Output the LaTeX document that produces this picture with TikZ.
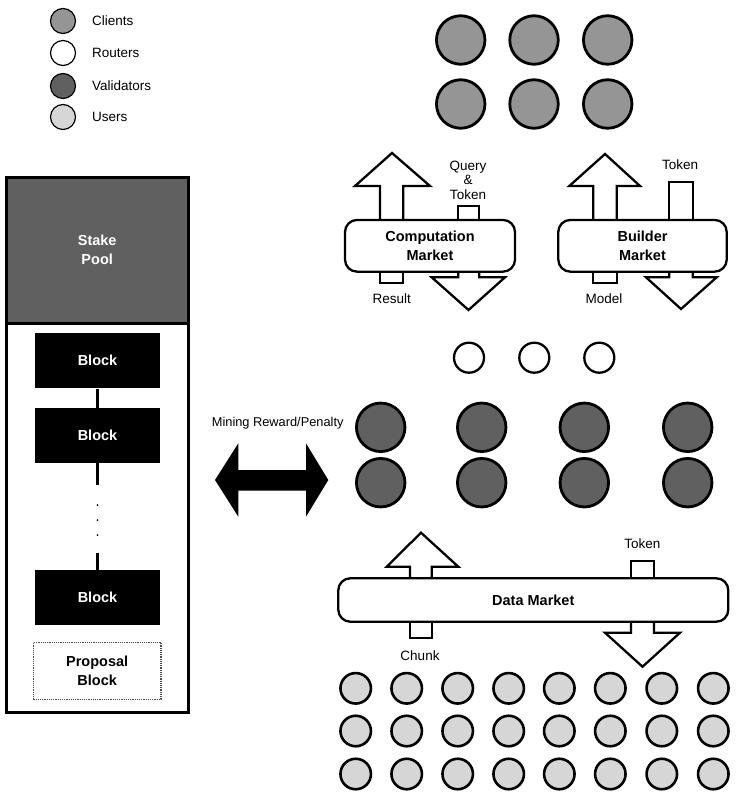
\documentclass[tikz,border=0pt]{standalone}
\usepackage{fontspec}
\setmainfont{Liberation Sans}
\definecolor{clientgray}{HTML}{959595}
\definecolor{valgray}{HTML}{606060}
\definecolor{usergray}{HTML}{D6D6D6}
\begin{document}
\begin{tikzpicture}[x=1pt,y=-1pt,
 lbl/.style={font=\fontsize{13.5}{14.5}\selectfont, inner sep=0pt, align=center},
 boldlbl/.style={font=\fontsize{14.5}{19}\selectfont\bfseries, inner sep=0pt, align=center},
 legc/.style={circle, draw, line width=1.2pt, minimum size=25pt, inner sep=0pt},
 client/.style={circle, draw, line width=2.8pt, fill=clientgray, minimum size=48.5pt, inner sep=0pt},
 validator/.style={circle, draw, line width=2.8pt, fill=valgray, minimum size=48.5pt, inner sep=0pt},
 router/.style={circle, draw, line width=2.3pt, fill=white, minimum size=30pt, inner sep=0pt},
 user/.style={circle, draw, line width=2.6pt, fill=usergray, minimum size=30.5pt, inner sep=0pt},
 market/.style={rectangle, rounded corners=12pt, draw, line width=2.3pt, fill=white, boldlbl},
 arr/.style={draw, line width=2.3pt, fill=white, line join=miter},
 blockbox/.style={rectangle, fill=black, text=white, boldlbl, minimum width=125pt, minimum height=55pt},
 link/.style={line width=3pt}
]
\useasboundingbox (0,0) rectangle (740,799);

% ---------- legend ----------
\node[legc, fill=clientgray] (lc) at (63,21) {};
\node[legc, fill=white] (lr) at (63,53) {};
\node[legc, fill=valgray] (lv) at (63,86) {};
\node[legc, fill=usergray] (lu) at (63,117) {};
\node[lbl, anchor=west] (lct) at (92,21) {Clients};
\node[lbl, anchor=west] (lrt) at (92,53) {Routers};
\node[lbl, anchor=west] (lvt) at (92,86) {Validators};
\node[lbl, anchor=west] (lut) at (92,117) {Users};

% ---------- clients ----------
\foreach \i/\x in {1/460.7,2/534,3/607.7}{
  \node[client] (c1\i) at (\x,40) {};
  \node[client] (c2\i) at (\x,104) {};
}

% ---------- computation market ----------
\draw[arr] (380,240) -- (380,186) -- (355,186) -- (392,153) -- (430,186) -- (403.3,186) -- (403.3,240);
\draw[arr] (380,250) rectangle (403.3,282.7);
\draw[arr] (458.3,206) rectangle (479.3,240);
\draw[arr] (458.3,250) -- (458.3,277.3) -- (431.7,277.3) -- (468.5,310) -- (505,277.3) -- (479.3,277.3) -- (479.3,250);
\node[market, minimum width=170pt, minimum height=51.7pt] (cm) at (430,245.8) {Computation\\Market};
\node[lbl] (result) at (391.7,299) {Result};
\node[lbl] (query) at (468,180) {Query\\\&\\Token};

% ---------- builder market ----------
\draw[arr] (593.3,240) -- (593.3,186) -- (569.3,186) -- (605,154) -- (640,186) -- (616.7,186) -- (616.7,240);
\draw[arr] (593.3,250) rectangle (616.7,282.7);
\draw[arr] (669.3,182) rectangle (692.7,240);
\draw[arr] (669.3,250) -- (669.3,277.3) -- (646,277.3) -- (681,309) -- (716.7,277.3) -- (692.7,277.3) -- (692.7,250);
\node[market, minimum width=168.4pt, minimum height=51.7pt] (bm) at (642.5,245.8) {Builder\\Market};
\node[lbl] (model) at (604,299) {Model};
\node[lbl] (btoken) at (680,165) {Token};

% ---------- routers ----------
\node[router] (r1) at (469,357.7) {};
\node[router] (r2) at (534.3,357.7) {};
\node[router] (r3) at (599.3,357.7) {};

% ---------- validators ----------
\foreach \i/\x in {1/380.7,2/481.7,3/584.3,4/687.7}{
  \node[validator] (v1\i) at (\x,427.3) {};
  \node[validator] (v2\i) at (\x,482.7) {};
}

% ---------- mining reward ----------
\node[lbl, font=\fontsize{12.8}{14}\selectfont] (mining) at (277.7,423) {Mining Reward/Penalty};
\fill (215,480) -- (238.3,443.3) -- (238.3,470) -- (306,470) -- (306,443.3) -- (328.3,480)
      -- (306,516.7) -- (306,490.7) -- (238.3,490.7) -- (238.3,516.7) -- cycle;

% ---------- data market ----------
\draw[arr] (410,595) -- (410,566.7) -- (386.7,566.7) -- (421,532.7) -- (458.3,566.7) -- (431.7,566.7) -- (431.7,595);
\draw[arr] (410,605) rectangle (431.7,638.3);
\draw[arr] (631,561) rectangle (654,595);
\draw[arr] (631,605) -- (631,632.7) -- (605,632.7) -- (642.5,666.7) -- (680,632.7) -- (654,632.7) -- (654,605);
\node[market, minimum width=390pt, minimum height=43.4pt] (dm) at (533.3,600) {Data Market};
\node[lbl] (chunk) at (420,656) {Chunk};
\node[lbl] (dtoken) at (642.3,544) {Token};

% ---------- users ----------
\foreach \i/\x in {1/355.7,2/406.7,3/457.7,4/508.7,5/559.3,6/610.3,7/661.8,8/713.3}{
  \node[user] (u1\i) at (\x,688.3) {};
  \node[user] (u2\i) at (\x,731) {};
  \node[user] (u3\i) at (\x,774) {};
}

% ---------- chain column ----------
\node[rectangle, draw, line width=3pt, fill=valgray, text=white, boldlbl,
      minimum width=182.3pt, minimum height=146pt] (stake) at (97.2,250.3) {Stake\\Pool};
\draw[line width=3pt] (6,177.3) rectangle (188.3,712.5);
\node[blockbox] (b1) at (97.5,360.8) {Block};
\node[blockbox, minimum height=54.4pt] (b2) at (97.5,435.5) {Block};
\node[blockbox] (b3) at (97.5,597.5) {Block};
\node[rectangle, draw=black!70, densely dotted, line width=1.2pt, boldlbl,
      minimum width=127.7pt, minimum height=56.6pt] (prop) at (97.2,671) {Proposal\\Block};
\coordinate (gtop) at (97.5,485);
\coordinate (gbot) at (97.5,552.7);
\node[circle, fill, inner sep=0pt, minimum size=2pt] (d1) at (97.5,505) {};
\node[circle, fill, inner sep=0pt, minimum size=2pt] (d2) at (97.5,520) {};
\node[circle, fill, inner sep=0pt, minimum size=2pt] (d3) at (97.5,535) {};
\draw[link] (b1.south) -- (b2.north);
\draw[link] (b2.south) -- (gtop);
\draw[link] (gbot) -- (b3.north);
\end{tikzpicture}
\end{document}
